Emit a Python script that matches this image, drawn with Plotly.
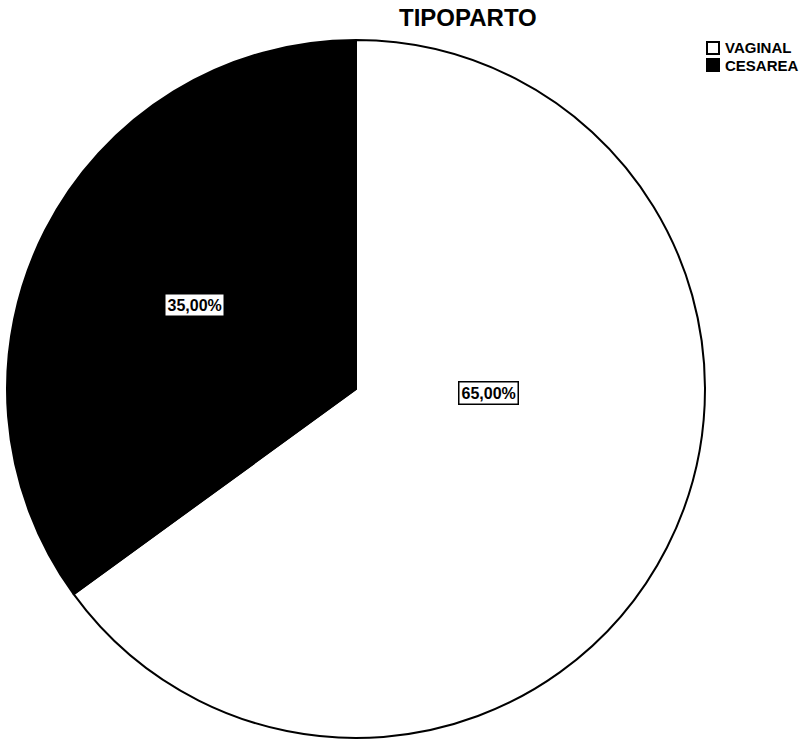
import plotly.graph_objects as go

# Delivery type distribution
labels = ["VAGINAL", "CESAREA"]
values = [65.0, 35.0]
slice_colors = ["white", "black"]
text_labels = ["65,00%", "35,00%"]

W, H = 799, 744
FONT = "Liberation Sans, Arial, sans-serif"

fig = go.Figure()
fig.add_trace(go.Pie(
    labels=labels,
    values=values,
    sort=False,
    direction="clockwise",
    rotation=0,
    marker=dict(colors=slice_colors, line=dict(color="black", width=2)),
    textinfo="none",
    hoverinfo="label+percent",
    showlegend=False,
    domain=dict(x=[7 / W, 705 / W], y=[4 / H, 702 / H + 4 / H]),
))

# Boxed percentage labels
label_pos = {"VAGINAL": (488, 393), "CESAREA": (194, 305)}
annotations = []
for lab, txt in zip(labels, text_labels):
    px, py = label_pos[lab]
    annotations.append(dict(
        x=px / W, y=1 - py / H, xref="paper", yref="paper",
        text=txt, showarrow=False,
        font=dict(family=FONT, size=16, color="black", weight="bold"),
        bgcolor="white", bordercolor="black", borderwidth=1.5, borderpad=2,
        xanchor="center", yanchor="middle",
    ))

# Title
annotations.append(dict(
    x=468 / W, y=1 - 18 / H, xref="paper", yref="paper",
    text="<b>TIPOPARTO</b>", showarrow=False,
    font=dict(family=FONT, size=24, color="black"),
    xanchor="center", yanchor="middle",
))

# Legend drawn as squares plus text
shapes = []
for i, (lab, col) in enumerate(zip(labels, slice_colors)):
    y0 = 42 + i * 17
    shapes.append(dict(
        type="rect", xref="paper", yref="paper",
        x0=707 / W, x1=719 / W, y0=1 - (y0 + 12) / H, y1=1 - y0 / H,
        fillcolor=col, line=dict(color="black", width=2),
    ))
    annotations.append(dict(
        x=723 / W, y=1 - (y0 + 6) / H, xref="paper", yref="paper",
        text=lab, showarrow=False,
        font=dict(family=FONT, size=15, color="black", weight="bold"),
        xanchor="left", yanchor="middle",
    ))

fig.update_layout(
    width=W, height=H,
    margin=dict(l=0, r=0, t=0, b=0),
    paper_bgcolor="white",
    plot_bgcolor="white",
    annotations=annotations,
    shapes=shapes,
)

fig.write_html("out.html")
